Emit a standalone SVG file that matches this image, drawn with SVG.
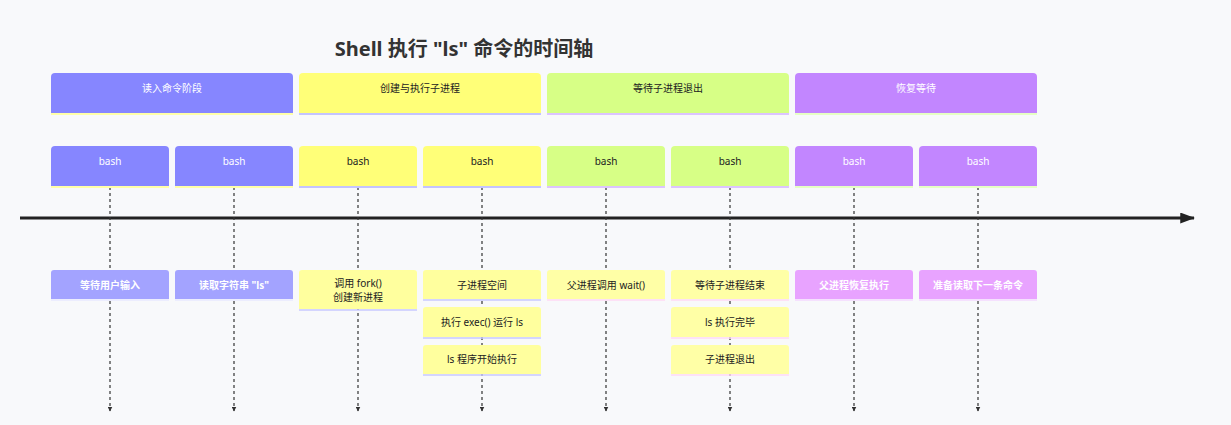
<svg xmlns="http://www.w3.org/2000/svg" width="1231" height="425" viewBox="0 0 1231 425">
<defs>
<style>
text{font-family:"Noto Sans","Noto Sans CJK SC",sans-serif;font-size:10px;text-anchor:middle;dominant-baseline:central}
.title{font-size:20px;font-weight:bold;fill:#333}
.w{fill:#ffffff}
.d{fill:#222222}
.vl{stroke:#333;stroke-width:1.2;stroke-dasharray:3,3;fill:none}
</style>
<marker id="ah" viewBox="0 0 10 10" refX="9" refY="5" markerWidth="5" markerHeight="5" orient="auto" markerUnits="userSpaceOnUse">
<path d="M0,0 L10,5 L0,10 z" fill="#333"/>
</marker>
<marker id="big" viewBox="0 0 16 12" refX="15" refY="6" markerWidth="16" markerHeight="11" orient="auto" markerUnits="userSpaceOnUse">
<path d="M0,0 L16,6 L0,12 z" fill="#222"/>
</marker>
</defs>
<rect width="1231" height="425" fill="#f8f9fb"/>
<text class="title" x="464" y="48">Shell 执行 "ls" 命令的时间轴</text>

<g id="connectors">
<line x1="20" y1="218" x2="1194" y2="218" stroke="#222" stroke-width="3" marker-end="url(#big)"/>
<line class="vl" x1="110" y1="187" x2="110" y2="411" marker-end="url(#ah)"/>
<line class="vl" x1="234" y1="187" x2="234" y2="411" marker-end="url(#ah)"/>
<line class="vl" x1="358" y1="187" x2="358" y2="411" marker-end="url(#ah)"/>
<line class="vl" x1="482" y1="187" x2="482" y2="411" marker-end="url(#ah)"/>
<line class="vl" x1="606" y1="187" x2="606" y2="411" marker-end="url(#ah)"/>
<line class="vl" x1="730" y1="187" x2="730" y2="411" marker-end="url(#ah)"/>
<line class="vl" x1="854" y1="187" x2="854" y2="411" marker-end="url(#ah)"/>
<line class="vl" x1="978" y1="187" x2="978" y2="411" marker-end="url(#ah)"/>
</g>

<!-- sections -->
<g id="section1">
<path d="M51,113 V77 Q51,73 55,73 H289 Q293,73 293,77 V113 Z" fill="#8686ff"/>
<line x1="51" y1="114" x2="293" y2="114" stroke="#ffffa8" stroke-width="2"/>
<text class="w" x="172" y="88">读入命令阶段</text>
</g>
<g id="section2">
<path d="M299,113 V77 Q299,73 303,73 H537 Q541,73 541,77 V113 Z" fill="#ffff78"/>
<line x1="299" y1="114" x2="541" y2="114" stroke="#c4c4ff" stroke-width="2"/>
<text class="d" x="420" y="88">创建与执行子进程</text>
</g>
<g id="section3">
<path d="M547,113 V77 Q547,73 551,73 H785 Q789,73 789,77 V113 Z" fill="#d7ff86"/>
<line x1="547" y1="114" x2="789" y2="114" stroke="#dcc4ff" stroke-width="2"/>
<text class="d" x="668" y="88">等待子进程退出</text>
</g>
<g id="section4">
<path d="M795,113 V77 Q795,73 799,73 H1033 Q1037,73 1037,77 V113 Z" fill="#c286ff"/>
<line x1="795" y1="114" x2="1037" y2="114" stroke="#e6ffc4" stroke-width="2"/>
<text class="w" x="916" y="88">恢复等待</text>
</g>

<!-- bash tasks -->
<g id="task1"><path d="M51,186 V150 Q51,146 55,146 H165 Q169,146 169,150 V186 Z" fill="#8686ff"/><line x1="51" y1="187" x2="169" y2="187" stroke="#ffffa8" stroke-width="2"/><text class="w" x="110" y="161">bash</text></g>
<g id="task2"><path d="M175,186 V150 Q175,146 179,146 H289 Q293,146 293,150 V186 Z" fill="#8686ff"/><line x1="175" y1="187" x2="293" y2="187" stroke="#ffffa8" stroke-width="2"/><text class="w" x="234" y="161">bash</text></g>
<g id="task3"><path d="M299,186 V150 Q299,146 303,146 H413 Q417,146 417,150 V186 Z" fill="#ffff78"/><line x1="299" y1="187" x2="417" y2="187" stroke="#c4c4ff" stroke-width="2"/><text class="d" x="358" y="161">bash</text></g>
<g id="task4"><path d="M423,186 V150 Q423,146 427,146 H537 Q541,146 541,150 V186 Z" fill="#ffff78"/><line x1="423" y1="187" x2="541" y2="187" stroke="#c4c4ff" stroke-width="2"/><text class="d" x="482" y="161">bash</text></g>
<g id="task5"><path d="M547,186 V150 Q547,146 551,146 H661 Q665,146 665,150 V186 Z" fill="#d7ff86"/><line x1="547" y1="187" x2="665" y2="187" stroke="#dcc4ff" stroke-width="2"/><text class="d" x="606" y="161">bash</text></g>
<g id="task6"><path d="M671,186 V150 Q671,146 675,146 H785 Q789,146 789,150 V186 Z" fill="#d7ff86"/><line x1="671" y1="187" x2="789" y2="187" stroke="#dcc4ff" stroke-width="2"/><text class="d" x="730" y="161">bash</text></g>
<g id="task7"><path d="M795,186 V150 Q795,146 799,146 H909 Q913,146 913,150 V186 Z" fill="#c286ff"/><line x1="795" y1="187" x2="913" y2="187" stroke="#e6ffc4" stroke-width="2"/><text class="w" x="854" y="161">bash</text></g>
<g id="task8"><path d="M919,186 V150 Q919,146 923,146 H1033 Q1037,146 1037,150 V186 Z" fill="#c286ff"/><line x1="919" y1="187" x2="1037" y2="187" stroke="#e6ffc4" stroke-width="2"/><text class="w" x="978" y="161">bash</text></g>

<!-- events -->
<g id="ev1"><path d="M51,299 V273 Q51,270 54,270 H166 Q169,270 169,273 V299 Z" fill="#a3a3ff"/><line x1="51" y1="300" x2="169" y2="300" stroke="#e8e8ff" stroke-width="1.5"/><text class="w" x="110" y="285" font-weight="bold">等待用户输入</text></g>
<g id="ev2"><path d="M175,299 V273 Q175,270 178,270 H290 Q293,270 293,273 V299 Z" fill="#a3a3ff"/><line x1="175" y1="300" x2="293" y2="300" stroke="#e8e8ff" stroke-width="1.5"/><text class="w" x="234" y="285" font-weight="bold">读取字符串 "ls"</text></g>
<g id="ev3"><path d="M299,309 V273 Q299,270 302,270 H414 Q417,270 417,273 V309 Z" fill="#ffff9e"/><line x1="299" y1="310" x2="417" y2="310" stroke="#c8c8ff" stroke-width="1.5"/><text class="d" x="358" y="283">调用 fork()</text><text class="d" x="358" y="297">创建新进程</text></g>
<g id="ev4"><path d="M423,299 V273 Q423,270 426,270 H538 Q541,270 541,273 V299 Z" fill="#ffff9e"/><line x1="423" y1="300" x2="541" y2="300" stroke="#c8c8ff" stroke-width="1.5"/><text class="d" x="482" y="285">子进程空间</text></g>
<g id="ev5"><path d="M423,337 V310 Q423,307 426,307 H538 Q541,307 541,310 V337 Z" fill="#ffff9e"/><line x1="423" y1="338" x2="541" y2="338" stroke="#c8c8ff" stroke-width="1.5"/><text class="d" x="482" y="322">执行 exec() 运行 ls</text></g>
<g id="ev6"><path d="M423,374 V348 Q423,345 426,345 H538 Q541,345 541,348 V374 Z" fill="#ffff9e"/><line x1="423" y1="375" x2="541" y2="375" stroke="#c8c8ff" stroke-width="1.5"/><text class="d" x="482" y="359">ls 程序开始执行</text></g>
<g id="ev7"><path d="M547,299 V273 Q547,270 550,270 H662 Q665,270 665,273 V299 Z" fill="#ffffa6"/><line x1="547" y1="300" x2="665" y2="300" stroke="#ffd8f4" stroke-width="1.5"/><text class="d" x="606" y="285">父进程调用 wait()</text></g>
<g id="ev8"><path d="M671,299 V273 Q671,270 674,270 H786 Q789,270 789,273 V299 Z" fill="#ffffa6"/><line x1="671" y1="300" x2="789" y2="300" stroke="#ffd8f4" stroke-width="1.5"/><text class="d" x="730" y="285">等待子进程结束</text></g>
<g id="ev9"><path d="M671,337 V310 Q671,307 674,307 H786 Q789,307 789,310 V337 Z" fill="#ffffa6"/><line x1="671" y1="338" x2="789" y2="338" stroke="#ffd8f4" stroke-width="1.5"/><text class="d" x="730" y="322">ls 执行完毕</text></g>
<g id="ev10"><path d="M671,374 V348 Q671,345 674,345 H786 Q789,345 789,348 V374 Z" fill="#ffffa6"/><line x1="671" y1="375" x2="789" y2="375" stroke="#ffd8f4" stroke-width="1.5"/><text class="d" x="730" y="359">子进程退出</text></g>
<g id="ev11"><path d="M795,299 V273 Q795,270 798,270 H910 Q913,270 913,273 V299 Z" fill="#e8a3ff"/><line x1="795" y1="300" x2="913" y2="300" stroke="#f4d8ff" stroke-width="1.5"/><text class="w" x="854" y="285" font-weight="bold">父进程恢复执行</text></g>
<g id="ev12"><path d="M919,299 V273 Q919,270 922,270 H1034 Q1037,270 1037,273 V299 Z" fill="#e8a3ff"/><line x1="919" y1="300" x2="1037" y2="300" stroke="#f4d8ff" stroke-width="1.5"/><text class="w" x="978" y="285" font-weight="bold">准备读取下一条命令</text></g>
</svg>
